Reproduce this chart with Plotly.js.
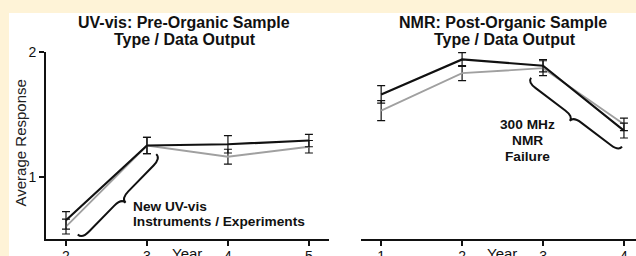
<!DOCTYPE html>
<html>
<head>
<meta charset="utf-8">
<script src="https://cdn.plot.ly/plotly-3.0.1.min.js"></script>
<style>
html, body { margin:0; padding:0; width:636px; height:256px; overflow:hidden; background:#FEF3D7; }
#chart { position:absolute; left:9px; top:13px; width:636px; height:243px; }
</style>
</head>
<body>
<div id="chart"></div>
<script>
// ---- data ----
const uvYears = [2, 3, 4, 5];
const uvBlack = [0.65, 1.25, 1.26, 1.29];
const uvBlackErr = [0.07, 0.065, 0.07, 0.05];
const uvGray = [0.60, 1.25, 1.16, 1.24];
const uvGrayErr = [0.06, 0.065, 0.06, 0.05];

const nmrYears = [1, 2, 3, 4];
const nmrBlack = [1.66, 1.94, 1.89, 1.37];
const nmrBlackErr = [0.07, 0.055, 0.05, 0.06];
const nmrGray = [1.53, 1.83, 1.87, 1.42];
const nmrGrayErr = [0.08, 0.06, 0.06, 0.05];

const uvTicks = [2, 3, 4, 5];
const nmrTicks = [1, 2, 3, 4];
const yTicks = [1, 2];

const uvTitle = ["UV-vis: Pre-Organic Sample", "Type / Data Output"];
const nmrTitle = ["NMR: Post-Organic Sample", "Type / Data Output"];
const uvNote = ["New UV-vis", "Instruments / Experiments"];
const nmrNote = ["300 MHz", "NMR", "Failure"];

// ---- layout geometry (page pixels) ----
const DIV_X = 9, DIV_Y = 13;
const ML = 36.7, MT = 38.7, MB = 17, W = 636, H = 243;
const PW = W - ML, PH = H - MT - MB;
const px = x => (x - DIV_X - ML) / PW;
const py = y => (DIV_Y + MT + PH - y) / PH;

const FONT = '"Liberation Sans", Arial, Helvetica, sans-serif';
const INK = '#111111';
const GRAY = '#a0a0a0';

function brace(x0, y0, x1, y1, h, side) {
  const dx = x1 - x0, dy = y1 - y0, L = Math.hypot(dx, dy);
  const ux = dx / L, uy = dy / L;
  let nx = -uy, ny = ux;
  if (side < 0) { nx = -nx; ny = -ny; }
  const q = Math.min(10, L / 6);
  const P = (s, o) => [x0 + ux * s + nx * o, y0 + uy * s + ny * o];
  const f = p => px(p[0]).toFixed(5) + ',' + py(p[1]).toFixed(5);
  const m = L / 2;
  return 'M' + f(P(0, 0)) +
    ' Q' + f(P(0, h)) + ' ' + f(P(q, h)) +
    ' L' + f(P(m - q, h)) +
    ' Q' + f(P(m, h)) + ' ' + f(P(m, 2 * h)) +
    ' Q' + f(P(m, h)) + ' ' + f(P(m + q, h)) +
    ' L' + f(P(L - q, h)) +
    ' Q' + f(P(L, h)) + ' ' + f(P(L, 0));
}

function line(x, y, err, color, width, xa, ya) {
  return {
    x: x, y: y, type: 'scatter', mode: 'lines',
    xaxis: xa, yaxis: ya,
    line: { color: color, width: width },
    error_y: { type: 'data', array: err, visible: true, color: INK, thickness: 1.2, width: 4 },
    hoverinfo: 'skip'
  };
}

const traces = [
  line(uvYears, uvGray, uvGrayErr, GRAY, 1.8, 'x', 'y'),
  line(uvYears, uvBlack, uvBlackErr, INK, 2.2, 'x', 'y'),
  line(nmrYears, nmrGray, nmrGrayErr, GRAY, 1.8, 'x2', 'y2'),
  line(nmrYears, nmrBlack, nmrBlackErr, INK, 2.2, 'x2', 'y2')
];

const xCommon = {
  showgrid: false, zeroline: false, showline: true, linecolor: INK, linewidth: 2,
  ticks: 'outside', ticklen: 5, tickwidth: 2, tickcolor: INK, ticklabelstandoff: -2,
  tickfont: { family: FONT, size: 14, color: INK }, tickmode: 'array'
};

function txt(text, x, y, opts) {
  return Object.assign({
    text: text, xref: 'paper', yref: 'paper', x: px(x), y: py(y),
    xanchor: 'center', yanchor: 'middle', showarrow: false,
    font: { family: FONT, size: 14, color: INK }
  }, opts || {});
}

const annotations = [
  txt('<b>' + uvTitle[0] + '</b>', 184, 22, { font: { family: FONT, size: 16, color: INK } }),
  txt('<b>' + uvTitle[1] + '</b>', 185, 39.5, { font: { family: FONT, size: 16, color: INK } }),
  txt('<b>' + nmrTitle[0] + '</b>', 503, 22, { font: { family: FONT, size: 16, color: INK } }),
  txt('<b>' + nmrTitle[1] + '</b>', 505, 39.5, { font: { family: FONT, size: 16, color: INK } }),
  txt('Average Response', 20, 143, { textangle: -90, font: { family: FONT, size: 15, color: '#222' } }),
  txt('Year', 187, 253.5, { font: { family: FONT, size: 15, color: INK } }),
  txt('Year', 502, 253.5, { font: { family: FONT, size: 15, color: INK } }),
  txt('<b>' + uvNote[0] + '</b>', 131, 206, { xanchor: 'left', font: { family: FONT, size: 13.7, color: INK } }),
  txt('<b>' + uvNote[1] + '</b>', 131, 221.7, { xanchor: 'left', font: { family: FONT, size: 13.7, color: INK } }),
  txt('<b>' + nmrNote[0] + '</b>', 527.5, 124, { font: { family: FONT, size: 13.7, color: INK } }),
  txt('<b>' + nmrNote[1] + '</b>', 527.5, 140.3, { font: { family: FONT, size: 13.7, color: INK } }),
  txt('<b>' + nmrNote[2] + '</b>', 527.5, 156.7, { font: { family: FONT, size: 13.7, color: INK } })
];

const shapes = [
  { type: 'path', xref: 'paper', yref: 'paper', path: brace(77.5, 234.5, 156, 154, 6, 1), line: { color: INK, width: 2 } },
  { type: 'path', xref: 'paper', yref: 'paper', path: brace(531, 77.5, 622, 146.5, 5.5, 1), line: { color: INK, width: 2 } }
];

const layout = {
  width: W, height: H,
  margin: { l: ML, r: 0, t: MT, b: MB, pad: 0 },
  paper_bgcolor: '#ffffff', plot_bgcolor: '#ffffff',
  showlegend: false,
  xaxis: Object.assign({}, xCommon, { domain: [0, px(329)], range: [1.753, 5.25], tickvals: uvTicks, ticktext: uvTicks.map(String), anchor: 'y' }),
  xaxis2: Object.assign({}, xCommon, { domain: [px(360.7), 1], range: [0.749, 4.26], tickvals: nmrTicks, ticktext: nmrTicks.map(String), anchor: 'y2' }),
  yaxis: {
    domain: [0, 1], range: [0.5, 2.0], anchor: 'x',
    showgrid: false, zeroline: false, showline: true, linecolor: INK, linewidth: 2,
    ticks: 'outside', ticklen: 5, tickwidth: 2, tickcolor: INK,
    tickmode: 'array', tickvals: yTicks, ticktext: yTicks.map(String),
    tickfont: { family: FONT, size: 14, color: INK }
  },
  yaxis2: { domain: [0, 1], range: [0.5, 2.0], anchor: 'x2', visible: false },
  annotations: annotations,
  shapes: shapes
};

Plotly.newPlot('chart', traces, layout, { displayModeBar: false, staticPlot: true });
</script>
</body>
</html>
